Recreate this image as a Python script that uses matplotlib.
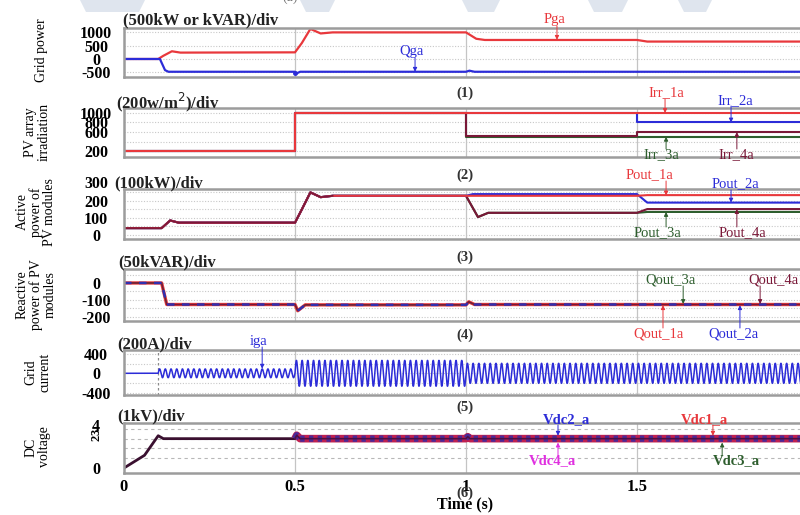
import numpy as np
import matplotlib
matplotlib.use("Agg")
import matplotlib.pyplot as plt
from matplotlib.patches import Polygon

plt.rcParams['font.family'] = ['Liberation Serif', 'DejaVu Serif']

W, H = 800, 515

# (1) grid power  (kW / kVAR)
pga_t = [0, 0.10, 0.115, 0.14, 0.165, 0.5, 0.52, 0.545, 0.575, 0.61, 1.0, 1.03, 1.055, 1.5, 1.53, 2.0]
pga_v = [0, 0, 120, 290, 240, 250, 600, 1130, 960, 1000, 1000, 760, 715, 715, 655, 655]
qga_t = [0, 0.105, 0.12, 0.13, 0.5, 0.505, 0.515, 1.0, 1.01, 1.025, 2.0]
qga_v = [0, 0, -420, -480, -480, -540, -480, -480, -440, -480, -480]

# (2) irradiation (W/m2)
irr1_t = [0, 0.5, 0.5, 2.0]
irr1_v = [200, 200, 1000, 1000]
irr2_t = [0, 0.5, 0.5, 1.5, 1.5, 2.0]
irr2_v = [200, 200, 1000, 1000, 800, 800]
irr3_t = [0, 0.5, 0.5, 1.0, 1.0, 2.0]
irr3_v = [200, 200, 1000, 1000, 500, 500]
irr4_t = [0, 0.5, 0.5, 1.0, 1.0, 1.5, 1.5, 2.0]
irr4_v = [200, 200, 1000, 1000, 520, 520, 600, 600]

# (3) active power of PV modules (kW), common start then per-module tails
pout_head_t = [0, 0.11, 0.135, 0.16, 0.5, 0.52, 0.545, 0.575, 0.61]
pout_head_v = [40, 40, 85, 72, 72, 150, 250, 222, 230]
pout1_t = pout_head_t + [1.0, 1.5, 1.53, 2.0]
pout1_v = pout_head_v + [230, 230, 234, 234]
pout2_t = pout_head_t + [1.0, 1.02, 1.5, 1.53, 2.0]
pout2_v = pout_head_v + [230, 240, 240, 190, 190]
pout3_t = pout_head_t + [1.0, 1.035, 1.065, 1.5, 1.53, 2.0]
pout3_v = pout_head_v + [230, 105, 130, 130, 135, 135]
pout4_t = pout_head_t + [1.0, 1.035, 1.065, 1.5, 1.53, 2.0]
pout4_v = pout_head_v + [230, 105, 130, 130, 152, 152]

# (4) reactive power of PV modules (kVAR) - the four modules overlap
qout_t = [0, 0.11, 0.125, 0.5, 0.508, 0.53, 1.0, 1.008, 1.025, 2.0]
qout_v = [0, 0, -128, -128, -165, -130, -130, -112, -128, -128]

# (5) grid current: sinusoid, amplitude per interval (A)
iga_edges = [0, 0.1, 0.5, 1.0, 2.0]
iga_amp = [0, 90, 265, 205]
grid_freq = 60

# (6) DC voltage (kV)
vdc_t = [0, 0.06, 0.1, 0.115, 0.5, 0.505, 0.515, 1.0, 1.005, 1.012, 2.0]
vdc_v = [0, 1.3, 3.3, 3.0, 3.0, 3.35, 3.0, 3.0, 3.2, 3.0, 3.0]

RED = '#e8383c'
BLUE = '#2c2cd8'
DRED = '#7a1838'
GREEN = '#2e5e2e'
MAG = '#e030e0'
GRID = '#c8c8c8'

panel_px = [(28, 77), (108, 157), (189, 239), (269, 321), (350, 395), (423, 473)]
ylims = [(-677, 1165), (74, 1105), (-24, 270), (-226, 83), (-445, 478), (-0.51, 4.6)]
ygrid = [[-500, 0, 500, 1000], [200, 400, 600, 800, 1000], [0, 50, 100, 150, 200, 250],
         [-200, -150, -100, -50, 0, 50], [-400, -200, 0, 200, 400], [1, 2, 3, 4]]
ytick_v = [[1000, 500, 0, -500], [1000, 800, 600, 200], [200, 100, 0], [0, -100, -200],
           [400, 0, -400], [4.4, 3.7, 3.05, 0]]
ytick_s = [['1000', '500', '0', '-500'], ['1000', '800', '600', '200'], ['200', '100', '0'],
           ['0', '-100', '-200'], ['400', '0', '-400'], ['4', '3', '2', '0']]

fig = plt.figure(figsize=(W / 100, H / 100), dpi=100)

X0, XSCALE = 124, 342.0   # pixel of t=0 and pixels per second

def px_rect(top, bot, left=124, right=808):
    return [left / W, 1 - bot / H, (right - left) / W, (bot - top) / H]

axes = []
for i, (top, bot) in enumerate(panel_px):
    ax = fig.add_axes(px_rect(top, bot))
    ax.set_xlim(0, 2)
    ax.set_ylim(*ylims[i])
    for s in ax.spines.values():
        s.set_color('#9c9c9c')
        s.set_linewidth(1.8)
    ls = (0, (3, 3)) if i == 5 else (0, (1, 1.5))
    for g in ygrid[i]:
        ax.axhline(g, color='#b8b8b8' if i == 5 else GRID, lw=0.8, ls=ls, zorder=0)
    for g in [0.5, 1.0, 1.5]:
        ax.axvline(g, color='#c4c4c4', lw=0.9, zorder=0)
    ax.set_yticks(ytick_v[i])
    ax.set_yticklabels(ytick_s[i])
    ax.tick_params(axis='y', length=0, pad=20, labelsize=11.5)
    for lb in ax.get_yticklabels():
        lb.set_ha('center')
        lb.set_fontweight('bold')
    if i < 5:
        ax.set_xticks([])
    else:
        ax.set_xticks([0, 0.5, 1, 1.5, 2])
        ax.set_xticklabels(['0', '0.5', '1', '1.5', '2'], fontweight='bold')
        ax.tick_params(axis='x', length=0, pad=4, labelsize=12)
    axes.append(ax)

# rotated small "3" and "2" on the DC voltage axis, as in the original
for lb in axes[5].get_yticklabels()[1:3]:
    lb.set_rotation(90)
    lb.set_fontsize(9)
    lb.set_va('center')

a1, a2, a3, a4, a5, a6 = axes

# the "300" label sits above the active power frame
fig.text(96 / W, 1 - 184 / H, '300', fontsize=11.5, fontweight='bold', ha='center', va='center')

a1.plot(pga_t, pga_v, color=RED, lw=1.6)
a1.plot(qga_t, qga_v, color=BLUE, lw=1.6)
a1.plot([0.5], [-540], 'o', color=BLUE, ms=2.5)

a2.plot(irr3_t, irr3_v, color=GREEN, lw=1.5)
a2.plot(irr4_t, irr4_v, color=DRED, lw=1.5)
a2.plot(irr2_t, irr2_v, color=BLUE, lw=1.5)
a2.plot(irr1_t, irr1_v, color=RED, lw=1.5)

a3.plot(pout3_t, pout3_v, color=GREEN, lw=1.5)
a3.plot(pout4_t, pout4_v, color=DRED, lw=1.5)
a3.plot(pout2_t, pout2_v, color=BLUE, lw=1.5)
a3.plot(pout1_t, pout1_v, color=RED, lw=1.5)
a3.plot(pout_head_t, pout_head_v, color=DRED, lw=1.2)

a4.plot(qout_t, qout_v, color=RED, lw=2.4)
a4.plot(qout_t, qout_v, color=GREEN, lw=0.8)
a4.plot(qout_t, qout_v, color=DRED, lw=1.0)
a4.plot(qout_t, qout_v, color='#3030b0', lw=1.8, ls=(0, (3, 3)))

t = np.linspace(0, 2, 40001)
amp = np.zeros_like(t)
for k in range(len(iga_amp)):
    amp[(t >= iga_edges[k]) & (t < iga_edges[k + 1])] = iga_amp[k]
a5.plot(t, amp * np.sin(2 * np.pi * grid_freq * (t - 0.1)), color=BLUE, lw=1.1)
a5.axvline(0.1, color='#8a8a8a', lw=0.9, ls=(0, (2, 2)), zorder=1)

vt = np.array(vdc_t)
vv = np.array(vdc_v)
m0 = vt <= 0.5
a6.plot(vt[m0], vv[m0], color='#3a1030', lw=2.0)
m1 = vt >= 0.5
a6.plot(vt[m1], vv[m1], color='#c02050', lw=5.5, solid_capstyle='butt')
a6.plot(vt[m1], vv[m1], color='#4a2a9a', lw=4.5, ls=(0, (0.7, 0.7)))
a6.plot(vt[m1], vv[m1], color='#4a1048', lw=1.2)

# annotations: axis, text, tip (t, value), arrow start y px, text centre px, colour, bold
notes = [
    (a1, 'Pga', 1.266, 720, 26, (554, 19), RED, False),
    (a1, 'Qga', 0.851, -480, 58, (412, 52), BLUE, False),
    (a2, 'Irr_1a', 1.582, 1000, 99, (666, 93), RED, False),
    (a2, 'Irr_2a', 1.775, 800, 106, (735, 101), BLUE, False),
    (a2, 'Irr_3a', 1.585, 500, 149, (661, 155), GREEN, False),
    (a2, 'Irr_4a', 1.792, 600, 149, (736, 155), DRED, False),
    (a3, 'Pout_1a', 1.585, 232, 181, (649, 175), RED, False),
    (a3, 'Pout_2a', 1.775, 190, 190, (735, 184), BLUE, False),
    (a3, 'Pout_3a', 1.585, 135, 227, (657, 233), GREEN, False),
    (a3, 'Pout_4a', 1.792, 152, 227, (742, 233), DRED, False),
    (a4, 'Qout_3a', 1.635, -125, 286, (670, 280), GREEN, False),
    (a4, 'Qout_4a', 1.86, -125, 286, (773, 280), DRED, False),
    (a4, 'Qout_1a', 1.576, -132, 328, (659, 334), RED, False),
    (a4, 'Qout_2a', 1.801, -132, 328, (733, 334), BLUE, False),
    (a5, 'iga', 0.404, 95, 347, (259, 342), BLUE, False),
    (a6, 'Vdc2_a', 1.269, 3.3, 425, (566, 420), BLUE, True),
    (a6, 'Vdc1_a', 1.722, 3.3, 425, (704, 420), RED, True),
    (a6, 'Vdc4_a', 1.269, 2.6, 456, (552, 461), MAG, True),
    (a6, 'Vdc3_a', 1.749, 2.6, 456, (736, 461), GREEN, True),
]
for ax, txt, xt, yt, y0, (xc, yc), c, bold in notes:
    ax.annotate('', xy=(xt, yt), xytext=(X0 + XSCALE * xt, H - y0),
                textcoords='figure pixels', annotation_clip=False,
                arrowprops=dict(arrowstyle='-|>', color=c, lw=0.7, mutation_scale=6,
                                shrinkA=0, shrinkB=0))
    fig.text(xc / W, 1 - yc / H, txt, color=c, fontsize=10.5,
             fontweight='bold' if bold else 'normal', ha='center', va='center')

# unit titles above each panel
titles = [('(500kW or kVAR)/div', 123, 20), ('(200w/m$^2$)/div', 116, 102),
          ('(100kW)/div', 114, 183), ('(50kVAR)/div', 118, 262),
          ('(200A)/div', 117, 344), ('(1kV)/div', 117, 416)]
for s, x, y in titles:
    fig.text(x / W, 1 - y / H, s, fontsize=12, fontweight='bold', color='#222222',
             ha='left', va='center')

# panel numbers
for s, y in [('(1)', 93), ('(2)', 175), ('(3)', 257), ('(4)', 335), ('(5)', 407), ('(6)', 493)]:
    fig.text(465 / W, 1 - y / H, s, fontsize=10.5, fontweight='bold', color='#333333',
             ha='center', va='center')
fig.text(465 / W, 1 - 504 / H, 'Time (s)', fontsize=11.5, fontweight='bold',
         ha='center', va='center')

# rotated axis names
ylabels = [('Grid power', 41, 50), ('PV array\nirradiation', 37, 132),
           ('Active\npower of\nPV modules', 36, 212), ('Reactive\npower of PV\nmodules', 36, 295),
           ('Grid\ncurrent', 38, 372), ('DC\nvoltage', 38, 447)]
for s, x, y in ylabels:
    fig.text(x / W, 1 - y / H, s, fontsize=10, rotation=90, ha='center', va='center',
             linespacing=1.05, multialignment='center')

# faint watermark shapes at the top edge
for x0, x1 in [(80, 145), (300, 335), (462, 500), (588, 628), (678, 712)]:
    pts = [(x0 / W, 1.0), (x1 / W, 1.0), ((x1 - 6) / W, 1 - 12 / H), ((x0 + 6) / W, 1 - 12 / H)]
    fig.patches.append(Polygon(pts, closed=True, transform=fig.transFigure,
                               facecolor='#dfe5ee', edgecolor='none', zorder=-1))
fig.text(290 / W, 1 + 3 / H, '(a)', fontsize=10, ha='center', va='center', color='#777777')

fig.savefig('out.png', dpi=100)
